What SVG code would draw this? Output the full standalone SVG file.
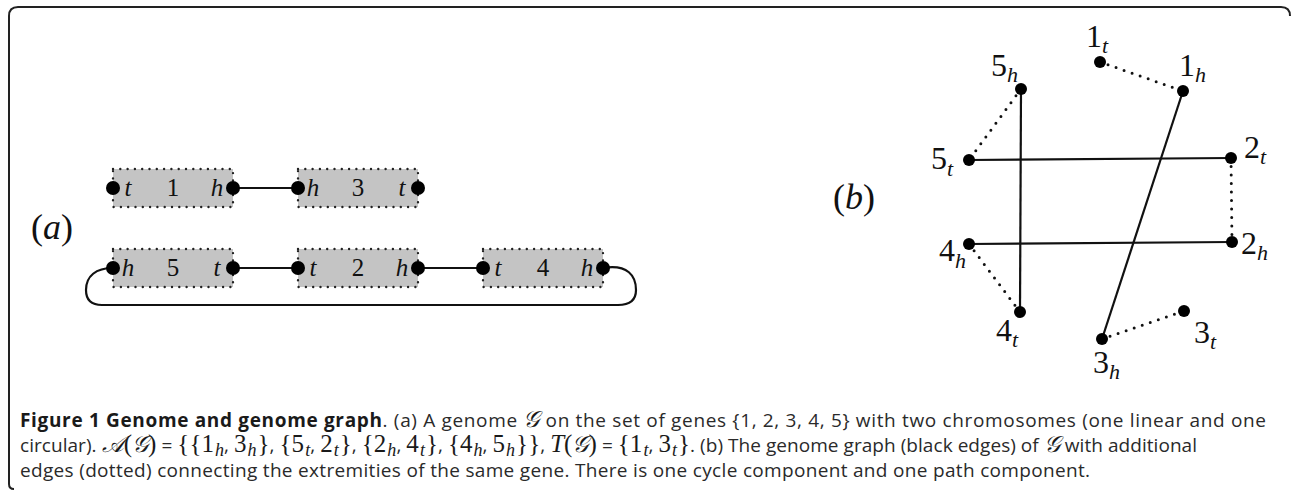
<svg xmlns="http://www.w3.org/2000/svg" width="1292" height="490" viewBox="0 0 1292 490">
<style>
.frame{fill:none;stroke:#222;stroke-width:2}
.box{fill:#c4c4c4;stroke:#222;stroke-width:2.4;stroke-dasharray:0 7.3;stroke-linecap:round}
.dot{fill:#000}
.edge{fill:none;stroke:#111;stroke-width:2.2}
.dotted{fill:none;stroke:#111;stroke-width:3;stroke-dasharray:0 8.5;stroke-linecap:round}
.bl{font-family:"Liberation Serif","DejaVu Serif",serif;font-size:25px;fill:#111;text-anchor:middle}
.it{font-style:italic}
.lb{font-family:"Liberation Serif","DejaVu Serif",serif;font-size:32px;fill:#111}
.sub{font-style:italic;font-size:22px}
.pl{font-family:"Liberation Serif","DejaVu Serif",serif;font-size:36px;fill:#111}
.cap{font-family:"Open Sans","Noto Sans","Liberation Sans",sans-serif;font-size:19px;fill:#2a2a2a}
.b{font-weight:bold;fill:#1a1a1a}
.m{font-family:"Liberation Serif","DejaVu Serif",serif;font-size:25px;fill:#1a1a1a}
.sc{font-family:"DejaVu Serif","DejaVu Sans","Noto Sans",serif;font-style:italic;font-size:23px;fill:#1a1a1a}
.s{font-style:italic;font-size:18px}
</style>
<path class="frame" d="M14,489 Q9,489 9,484 V16 Q9,7 18,7 H1281 Q1290,7 1290,16"/>

<text class="pl" x="31" y="239">(<tspan class="it">a</tspan>)</text>
<text class="pl" x="833" y="209">(<tspan class="it">b</tspan>)</text>

<g id="connectors">
  <line class="edge" x1="233" y1="188" x2="298" y2="188"/>
  <line class="edge" x1="233" y1="268" x2="298" y2="268"/>
  <line class="edge" x1="418" y1="268" x2="483" y2="268"/>
  <path class="edge" d="M603,268 C628,264 636,276 636,290 C636,300 630,305 618,305 H102 C92,305 86,300 86,290 C86,276 96,268 113,268"/>
  <line class="edge" x1="1021" y1="89" x2="1020" y2="312"/>
  <line class="edge" x1="1183" y1="91" x2="1102" y2="339"/>
  <line class="edge" x1="969" y1="160" x2="1231" y2="158"/>
  <line class="edge" x1="969" y1="244" x2="1232" y2="242"/>
  <line class="dotted" x1="1100" y1="62" x2="1183" y2="91"/>
  <line class="dotted" x1="1021" y1="89" x2="969" y2="160"/>
  <line class="dotted" x1="1231" y1="158" x2="1232" y2="242"/>
  <line class="dotted" x1="969" y1="244" x2="1020" y2="312"/>
  <line class="dotted" x1="1102" y1="339" x2="1184" y2="311"/>
</g>

<g id="gene1">
  <rect class="box" x="113" y="169" width="120" height="38"/>
  <circle class="dot" cx="113" cy="188" r="7"/><circle class="dot" cx="233" cy="188" r="7"/>
  <text class="bl it" x="128" y="196">t</text><text class="bl" x="173" y="196">1</text><text class="bl it" x="217" y="196">h</text>
</g>
<g id="gene3">
  <rect class="box" x="298" y="169" width="120" height="38"/>
  <circle class="dot" cx="298" cy="188" r="7"/><circle class="dot" cx="418" cy="188" r="7"/>
  <text class="bl it" x="313" y="196">h</text><text class="bl" x="358" y="196">3</text><text class="bl it" x="402" y="196">t</text>
</g>
<g id="gene5">
  <rect class="box" x="113" y="249" width="120" height="38"/>
  <circle class="dot" cx="113" cy="268" r="7"/><circle class="dot" cx="233" cy="268" r="7"/>
  <text class="bl it" x="128" y="276">h</text><text class="bl" x="173" y="276">5</text><text class="bl it" x="217" y="276">t</text>
</g>
<g id="gene2">
  <rect class="box" x="298" y="249" width="120" height="38"/>
  <circle class="dot" cx="298" cy="268" r="7"/><circle class="dot" cx="418" cy="268" r="7"/>
  <text class="bl it" x="313" y="276">t</text><text class="bl" x="358" y="276">2</text><text class="bl it" x="402" y="276">h</text>
</g>
<g id="gene4">
  <rect class="box" x="483" y="249" width="120" height="38"/>
  <circle class="dot" cx="483" cy="268" r="7"/><circle class="dot" cx="603" cy="268" r="7"/>
  <text class="bl it" x="498" y="276">t</text><text class="bl" x="543" y="276">4</text><text class="bl it" x="587" y="276">h</text>
</g>

<g id="v1t"><circle class="dot" cx="1100" cy="62" r="6"/><text class="lb" x="1086" y="47">1<tspan class="sub" dy="6">t</tspan></text></g>
<g id="v1h"><circle class="dot" cx="1183" cy="91" r="6"/><text class="lb" x="1179" y="76">1<tspan class="sub" dy="6">h</tspan></text></g>
<g id="v5h"><circle class="dot" cx="1021" cy="89" r="6"/><text class="lb" x="991" y="76">5<tspan class="sub" dy="6">h</tspan></text></g>
<g id="v5t"><circle class="dot" cx="969" cy="160" r="6"/><text class="lb" x="931" y="169">5<tspan class="sub" dy="7">t</tspan></text></g>
<g id="v2t"><circle class="dot" cx="1231" cy="158" r="6"/><text class="lb" x="1244" y="158">2<tspan class="sub" dy="6">t</tspan></text></g>
<g id="v2h"><circle class="dot" cx="1232" cy="242" r="6"/><text class="lb" x="1241" y="254">2<tspan class="sub" dy="6">h</tspan></text></g>
<g id="v4h"><circle class="dot" cx="969" cy="244" r="6"/><text class="lb" x="939" y="261">4<tspan class="sub" dy="7">h</tspan></text></g>
<g id="v4t"><circle class="dot" cx="1020" cy="312" r="6"/><text class="lb" x="996" y="341">4<tspan class="sub" dy="6">t</tspan></text></g>
<g id="v3h"><circle class="dot" cx="1102" cy="339" r="6"/><text class="lb" x="1093" y="373">3<tspan class="sub" dy="6">h</tspan></text></g>
<g id="v3t"><circle class="dot" cx="1184" cy="311" r="6"/><text class="lb" x="1194" y="343">3<tspan class="sub" dy="6">t</tspan></text></g>

<g id="caption">
<text class="cap" x="20" y="427" textLength="1246" lengthAdjust="spacing"><tspan class="b">Figure 1 Genome and genome graph</tspan>. (a) A genome <tspan class="sc">𝒢</tspan> on the set of genes {1, 2, 3, 4, 5} with two chromosomes (one linear and one</text>
<text class="cap" x="20" y="452" textLength="1177" lengthAdjust="spacing">circular). <tspan class="sc">𝒜</tspan><tspan class="m">(</tspan><tspan class="sc">𝒢</tspan><tspan class="m">)</tspan> = <tspan class="m">{{1</tspan><tspan class="m s" dx="1" dy="4">h</tspan><tspan dy="-4">, </tspan><tspan class="m">3</tspan><tspan class="m s" dx="1" dy="4">h</tspan><tspan class="m" dx="1" dy="-4">}</tspan>, <tspan class="m">{5</tspan><tspan class="m s" dx="1" dy="4">t</tspan><tspan dy="-4">, </tspan><tspan class="m">2</tspan><tspan class="m s" dx="1" dy="4">t</tspan><tspan class="m" dx="1" dy="-4">}</tspan>, <tspan class="m">{2</tspan><tspan class="m s" dx="1" dy="4">h</tspan><tspan dy="-4">, </tspan><tspan class="m">4</tspan><tspan class="m s" dx="1" dy="4">t</tspan><tspan class="m" dx="1" dy="-4">}</tspan>, <tspan class="m">{4</tspan><tspan class="m s" dx="1" dy="4">h</tspan><tspan dy="-4">, </tspan><tspan class="m">5</tspan><tspan class="m s" dx="1" dy="4">h</tspan><tspan class="m" dx="1" dy="-4">}}</tspan>, <tspan class="m it">T</tspan><tspan class="m">(</tspan><tspan class="sc">𝒢</tspan><tspan class="m">)</tspan> = <tspan class="m">{1</tspan><tspan class="m s" dx="1" dy="4">t</tspan><tspan dy="-4">, </tspan><tspan class="m">3</tspan><tspan class="m s" dx="1" dy="4">t</tspan><tspan class="m" dx="1" dy="-4">}</tspan>. (b) The genome graph (black edges) of <tspan class="sc">𝒢</tspan> with additional</text>
<text class="cap" x="20" y="477" textLength="1070" lengthAdjust="spacing">edges (dotted) connecting the extremities of the same gene. There is one cycle component and one path component.</text>
</g>
</svg>
